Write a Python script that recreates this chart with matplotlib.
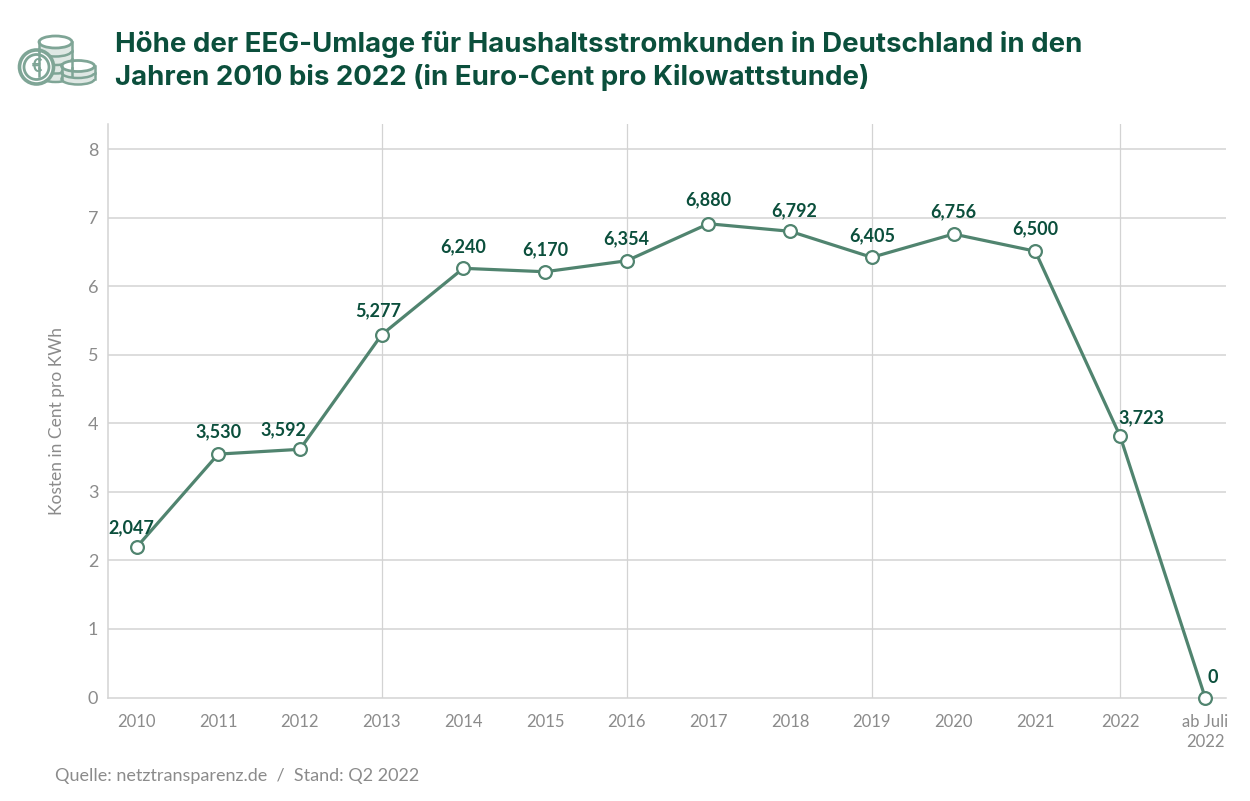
import numpy as np
import matplotlib
matplotlib.use("Agg")
import matplotlib.pyplot as plt
from matplotlib.patches import Ellipse, Circle, Rectangle

categories = ["2010", "2011", "2012", "2013", "2014", "2015", "2016", "2017",
              "2018", "2019", "2020", "2021", "2022", "ab Juli\n2022"]
# height of each point as drawn in the reference
drawn_values = [2.19, 3.55, 3.62, 5.29, 6.26, 6.21, 6.37, 6.91, 6.80, 6.42, 6.76, 6.51, 3.81, 0.0]
# values as printed in the reference
value_labels = ["2,047", "3,530", "3,592", "5,277", "6,240", "6,170", "6,354",
                "6,880", "6,792", "6,405", "6,756", "6,500", "3,723", "0"]
y_ticks = [0, 1, 2, 3, 4, 5, 6, 7, 8]
title = ("Höhe der EEG-Umlage für Haushaltsstromkunden in Deutschland in den\n"
         "Jahren 2010 bis 2022 (in Euro-Cent pro Kilowattstunde)")
y_label = "Kosten in Cent pro KWh"
source = "Quelle: netztransparenz.de  /  Stand: Q2 2022"

W, H = 1250, 801
GREEN = "#50846f"
DARK = "#0b4f3c"
GREY = "#8b8b8b"
GRID = "#d3d3d3"
ICON = "#7fa596"
FONT = "Lato"
HEAD = "Inter"

fig = plt.figure(figsize=(W / 100, H / 100), dpi=100, facecolor="white")
L, R, T, B = 108, 1226, 124, 697.5
ax = fig.add_axes([L / W, 1 - B / H, (R - L) / W, (B - T) / H])

step, x0 = 81.7, 136.5
x = np.arange(len(categories), dtype=float)
x[12:] += [0.04, 0.08]
ax.set_xlim((L - x0) / step, (R - x0) / step)
ax.set_ylim(0, (B - T) / 68.56)

for s in ["top", "right"]:
    ax.spines[s].set_visible(False)
for s in ["left", "bottom"]:
    ax.spines[s].set_color(GRID)
    ax.spines[s].set_linewidth(1.1)

ax.set_yticks(y_ticks)
ax.set_xticks(x)
ax.set_xticklabels(categories, fontfamily=FONT, fontsize=12, color=GREY, linespacing=1.3)
ax.set_yticklabels([str(v) for v in y_ticks], fontfamily=FONT, fontsize=13, color=GREY)
ax.tick_params(axis="both", length=0)
ax.tick_params(axis="x", pad=12)
ax.tick_params(axis="y", pad=7)

ax.grid(False)
for v in y_ticks[1:]:
    ax.axhline(v, color=GRID, lw=1.1, zorder=1)
for i in range(3, len(categories) - 1, 3):
    ax.axvline(x[i], color=GRID, lw=0.9, zorder=1)

ax.plot(x, drawn_values, color=GREEN, lw=2.3, marker="o", ms=9.2, mfc="white",
        mec=GREEN, mew=1.6, zorder=3, clip_on=False)

offsets = {0: (-5, 20), 2: (-16, 20), 3: (-3, 24), 7: (0, 24), 8: (4, 21), 12: (21, 19), 13: (8, 20)}
for i, lab in enumerate(value_labels):
    ox, oy = offsets.get(i, (0, 22))
    ax.annotate(lab, (x[i], drawn_values[i]), xytext=(ox, oy), textcoords="offset pixels",
                ha="center", va="center", fontfamily=FONT, fontweight="bold",
                fontsize=13, color=DARK, zorder=4)

fig.text(115 / W, 1 - 61 / H, title, fontfamily=HEAD, fontweight="bold", fontsize=19.9,
         color=DARK, ha="left", va="center", linespacing=1.33)
fig.text(57 / W, 1 - 421 / H, y_label, rotation=90, fontfamily=FONT, fontsize=12.5,
         color=GREY, ha="center", va="center")
fig.text(55 / W, 1 - 776 / H, source, fontfamily=FONT, fontsize=13, color=GREY,
         ha="left", va="center")

# coin icon, in pixel space of the figure
ic = fig.add_axes([0, 0, 1, 1], facecolor="none")
ic.set_xlim(0, W)
ic.set_ylim(H, 0)
ic.axis("off")


def stack(cx, top, n, rx, ry, gap):
    for k in range(n - 1, -1, -1):
        yy = top + k * gap
        ic.add_patch(Ellipse((cx, yy + gap), 2 * rx, 2 * ry, fc="#dfe8e4", ec=ICON, lw=1.8))
        ic.add_patch(Rectangle((cx - rx, yy), 2 * rx, gap, fc="#dfe8e4", ec="none"))
        ic.plot([cx - rx, cx - rx], [yy, yy + gap], color=ICON, lw=1.8)
        ic.plot([cx + rx, cx + rx], [yy, yy + gap], color=ICON, lw=1.8)
    ic.add_patch(Ellipse((cx, top), 2 * rx, 2 * ry, fc="white", ec=ICON, lw=2))


stack(55.5, 42, 4, 16.5, 6, 8.5)
ic.add_patch(Circle((36.5, 67), 17, fc="white", ec=ICON, lw=2.6))
ic.add_patch(Circle((36.5, 67), 12.5, fc="white", ec=ICON, lw=2))
ic.text(36.5, 67, "€", fontfamily=FONT, fontweight="bold", fontsize=13, color=ICON,
        ha="center", va="center")
stack(78, 66, 2, 16.5, 5.5, 6.5)

fig.savefig("out.png", dpi=100, facecolor="white")
